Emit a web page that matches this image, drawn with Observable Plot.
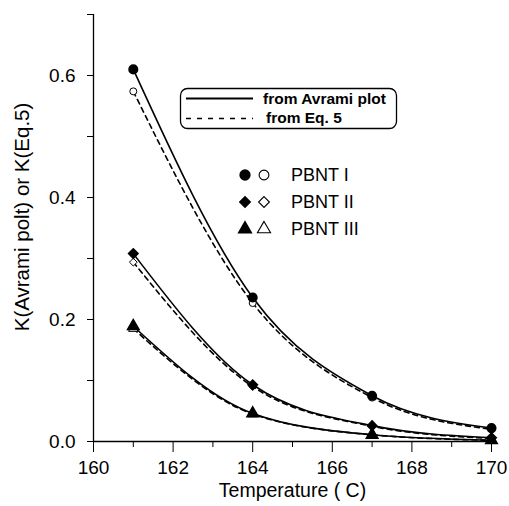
<!DOCTYPE html>
<html>
<head>
<meta charset="utf-8">
<script src="https://cdn.jsdelivr.net/npm/d3@7"></script>
<script src="https://cdn.jsdelivr.net/npm/@observablehq/plot@0.6"></script>
<style>
  html, body { margin: 0; padding: 0; background: #fff; }
  #chart { position: relative; width: 509px; height: 506px; }
  svg { display: block; }
</style>
</head>
<body>
<div id="chart"></div>
<script>
// ---- data ----
const temps = [161, 164, 167, 170];
const avramiI   = [0.610, 0.236, 0.075, 0.022];
const eq5I      = [0.574, 0.227, 0.072, 0.020];
const avramiII  = [0.308, 0.093, 0.026, 0.006];
const eq5II     = [0.294, 0.090, 0.025, 0.005];
const avramiIII = [0.189, 0.046, 0.011, 0.002];
const eq5III    = [0.185, 0.045, 0.011, 0.002];

const seriesNames = ["PBNT I", "PBNT II", "PBNT III"];
const seriesSymbols = ["circle", "diamond2", "triangle"];
const methodNames = ["from Avrami plot", "from Eq. 5"];

const xMajor = [160, 162, 164, 166, 168, 170];
const xMinor = [161, 163, 165, 167, 169];
const yMajor = [0.0, 0.2, 0.4, 0.6];
const yMinor = [0.1, 0.3, 0.5, 0.7];

const xLabel = "Temperature ( C)";
const yLabel = "K(Avrami polt) or K(Eq.5)";

// ---- build table ----
const rows = [];
const sets = [[avramiI, eq5I], [avramiII, eq5II], [avramiIII, eq5III]];
sets.forEach(([av, eq], s) => {
  temps.forEach((t, i) => {
    rows.push({series: seriesNames[s], symbol: seriesSymbols[s], method: "avrami", T: t, K: av[i]});
    rows.push({series: seriesNames[s], symbol: seriesSymbols[s], method: "eq5", T: t, K: eq[i]});
  });
});
const av = rows.filter(d => d.method === "avrami");
const eq = rows.filter(d => d.method === "eq5");

const font = "'Liberation Sans', Arial, sans-serif";

const chart = Plot.plot({
  width: 509,
  height: 506,
  marginLeft: 93,
  marginRight: 18,
  marginTop: 14,
  marginBottom: 65,
  style: {fontFamily: font, fontSize: "19px", color: "#000", background: "#fff"},
  x: {domain: [160, 170]},
  y: {domain: [0, 0.7]},
  marks: [
    Plot.ruleX([160], {stroke: "#000", strokeWidth: 1.3}),
    Plot.ruleY([0], {stroke: "#000", strokeWidth: 1.3}),
    Plot.axisX({ticks: xMajor, tickSize: 11, tickPadding: 8, tickFormat: d3.format("d"), label: null, fontSize: 19}),
    Plot.axisX({ticks: xMinor, tickSize: 6, tickFormat: () => "", label: null}),
    Plot.axisY({ticks: yMajor, tickSize: 6, tickPadding: 12, tickFormat: d3.format(".1f"), label: null, fontSize: 19}),
    Plot.axisY({ticks: yMinor, tickSize: 6, tickFormat: () => "", label: null}),
    Plot.line(eq, {x: "T", y: "K", z: "series", curve: "monotone-x", stroke: "#000", strokeWidth: 1.6, strokeDasharray: "5,4"}),
    Plot.line(av, {x: "T", y: "K", z: "series", curve: "monotone-x", stroke: "#000", strokeWidth: 1.6}),
    Plot.dot(eq, {x: "T", y: "K", symbol: d => d.symbol, fill: "#fff", stroke: "#000", strokeWidth: 1, r: 3.5}),
    Plot.dot(av, {x: "T", y: "K", symbol: d => d.symbol, fill: "#000", stroke: "#000", r: 4.3}),
    Plot.text([xLabel], {frameAnchor: "bottom", dy: 55.5, text: d => d, fontSize: 19.5}),
    Plot.text([yLabel], {frameAnchor: "left", textAnchor: "middle", dx: -71, dy: -11, rotate: -90, text: d => d, fontSize: 20.5})
  ]
});
document.getElementById("chart").appendChild(chart);

// ---- legends (drawn in pixel space over the plot) ----
const svg = d3.select(chart);
const lg = svg.append("g").attr("font-family", font).attr("fill", "#000").attr("text-anchor", "start");

// method legend box
lg.append("rect").attr("x", 180.5).attr("y", 88.5).attr("width", 216).attr("height", 40)
  .attr("rx", 7).attr("fill", "#fff").attr("stroke", "#000").attr("stroke-width", 1.3);
lg.append("line").attr("x1", 186).attr("x2", 253).attr("y1", 98.5).attr("y2", 98.5)
  .attr("stroke", "#000").attr("stroke-width", 2);
lg.append("line").attr("x1", 186).attr("x2", 253).attr("y1", 118.5).attr("y2", 118.5)
  .attr("stroke", "#000").attr("stroke-width", 1.6).attr("stroke-dasharray", "5,6");
lg.append("text").attr("x", 263).attr("y", 104).attr("font-size", 15.5).attr("font-weight", "bold").text(methodNames[0]);
lg.append("text").attr("x", 266).attr("y", 123).attr("font-size", 15.5).attr("font-weight", "bold").text(methodNames[1]);

// series legend
const symMap = {circle: d3.symbolCircle, "diamond2": d3.symbolDiamond2, triangle: d3.symbolTriangle};
seriesNames.forEach((name, i) => {
  const cy = 175 + i * 27;
  const sym = symMap[seriesSymbols[i]];
  lg.append("path").attr("transform", `translate(245,${cy})`)
    .attr("d", d3.symbol(sym, 100)()).attr("fill", "#000");
  lg.append("path").attr("transform", `translate(264,${cy})`)
    .attr("d", d3.symbol(sym, 75)()).attr("fill", "#fff").attr("stroke", "#000").attr("stroke-width", 1.1);
  lg.append("text").attr("x", 291).attr("y", cy + 6).attr("font-size", 18).text(name);
});
</script>
</body>
</html>
